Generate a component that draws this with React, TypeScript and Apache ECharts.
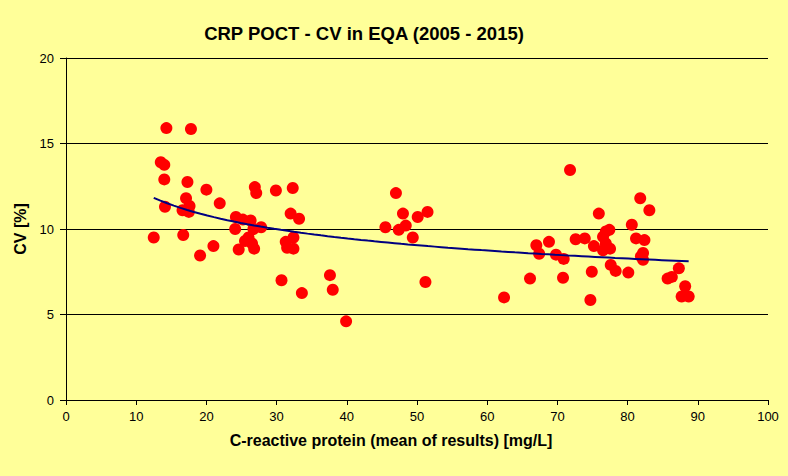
import React, { useEffect, useRef } from "react";
import * as echarts from "echarts";

const crpMean: number[] = [
  12.5, 14.3, 17.8, 13.5, 14.0, 14.0, 17.3, 20.0, 21.9, 17.1, 17.6, 14.1, 16.6, 17.5, 16.7,
  24.2, 24.1, 21.0, 19.1, 24.6, 26.9, 27.1, 29.9, 32.3, 32.0, 33.2, 25.2, 26.3, 26.7, 27.8,
  26.0, 25.5, 26.5, 26.8, 31.3, 32.4, 31.5, 32.4, 30.7, 33.6, 37.6, 38.0, 39.9,
  47.0, 48.0, 50.1, 51.5, 45.5, 47.4, 48.4, 49.4, 51.2,
  71.8, 75.9, 77.4, 76.9, 76.5, 72.6, 73.9, 75.2, 68.8, 67.0, 67.4, 69.8, 70.9, 76.9, 77.5,
  76.5, 77.6, 78.3, 74.9, 70.8, 66.1, 62.4, 74.7,
  81.8, 83.1, 80.6, 81.2, 82.4, 82.2, 81.9, 82.2, 80.1, 87.3, 86.3, 85.7, 88.2, 87.7, 88.7,
];

const cvPercent: number[] = [
  9.5, 15.9, 15.85, 13.9, 13.75, 12.9, 12.75, 12.3, 11.5, 11.8, 11.35, 11.3, 11.1, 11.0, 9.65,
  10.7, 10.0, 9.0, 8.45, 8.8, 12.45, 12.1, 12.25, 12.4, 10.9, 10.6, 10.55, 10.5, 10.0, 10.1,
  9.5, 9.3, 9.15, 8.85, 9.25, 9.5, 8.9, 8.85, 7.0, 6.25, 7.3, 6.45, 4.6,
  12.1, 10.9, 10.7, 11.0, 10.1, 9.95, 10.2, 9.5, 6.9,
  13.45, 10.9, 9.95, 9.85, 9.55, 9.4, 9.45, 9.0, 9.25, 9.05, 8.55, 8.5, 8.25, 9.15, 8.85,
  8.75, 7.9, 7.55, 7.5, 7.15, 7.1, 6.0, 5.85,
  11.8, 11.1, 10.25, 9.45, 9.35, 8.6, 8.4, 8.2, 7.45, 7.7, 7.2, 7.1, 6.65, 6.05, 6.05,
];

const xTicks: number[] = [0, 10, 20, 30, 40, 50, 60, 70, 80, 90, 100];
const yTicks: number[] = [0, 5, 10, 15, 20];

const titleText = "CRP POCT - CV in EQA (2005 - 2015)";
const xAxisTitle = "C-reactive protein (mean of results) [mg/L]";
const yAxisTitle = "CV [%]";

// Power trendline (y = a * x^b) fitted by least squares on logs, as in a spreadsheet trendline
function powerTrend(xs: number[], ys: number[]): [number, number][] {
  const n = xs.length;
  let sx = 0, sy = 0, sxx = 0, sxy = 0;
  for (let i = 0; i < n; i++) {
    const lx = Math.log(xs[i]);
    const ly = Math.log(ys[i]);
    sx += lx; sy += ly; sxx += lx * lx; sxy += lx * ly;
  }
  const b = (n * sxy - sx * sy) / (n * sxx - sx * sx);
  const a = Math.exp((sy - b * sx) / n);
  const minX = Math.min(...xs);
  const maxX = Math.max(...xs);
  const pts: [number, number][] = [];
  const steps = 80;
  for (let i = 0; i <= steps; i++) {
    const x = minX + ((maxX - minX) * i) / steps;
    pts.push([x, a * Math.pow(x, b)]);
  }
  return pts;
}

export default function App() {
  const ref = useRef<HTMLDivElement>(null);
  useEffect(() => {
    if (!ref.current) return;
    const chart = echarts.init(ref.current, undefined, { renderer: "svg" });
    const scatterData = crpMean.map((x, i) => [x, cvPercent[i]]);
    const font = "'Liberation Sans', Arial, sans-serif";
    chart.setOption({
      animation: false,
      backgroundColor: "#FFFF99",
      textStyle: { fontFamily: font },
      title: {
        text: titleText,
        left: 359,
        top: 19,
        textAlign: "center",
        textStyle: { fontSize: 18.5, fontWeight: "bold", color: "#000", fontFamily: font },
      },
      graphic: [
        {
          type: "text",
          x: 391,
          y: 440,
          style: {
            text: xAxisTitle,
            align: "center",
            verticalAlign: "middle",
            fontSize: 16,
            fontWeight: "bold",
            fill: "#000",
            fontFamily: font,
          },
        },
      ],
      grid: { left: 66, right: 20, top: 58, bottom: 76, containLabel: false },
      xAxis: {
        type: "value",
        min: xTicks[0],
        max: xTicks[xTicks.length - 1],
        interval: 10,
        axisLine: { show: true, lineStyle: { color: "#000", width: 1 } },
        axisTick: { show: true, length: 5, lineStyle: { color: "#000" } },
        axisLabel: { fontSize: 13, color: "#000", margin: 10, fontFamily: font },
        splitLine: { show: false },
      },
      yAxis: {
        type: "value",
        min: yTicks[0],
        max: yTicks[yTicks.length - 1],
        interval: 5,
        name: yAxisTitle,
        nameLocation: "middle",
        nameGap: 34,
        nameTextStyle: { fontSize: 16, fontWeight: "bold", color: "#000", fontFamily: font },
        axisLine: { show: true, lineStyle: { color: "#000", width: 1 } },
        axisTick: { show: true, length: 6, lineStyle: { color: "#000" } },
        axisLabel: { fontSize: 13, color: "#000", margin: 12, fontFamily: font },
        splitLine: { show: true, lineStyle: { color: "#000", width: 1 } },
      },
      series: [
        {
          type: "scatter",
          data: scatterData,
          symbol: "circle",
          symbolSize: 12,
          itemStyle: { color: "#FF0000", opacity: 1 },
          z: 2,
        },
        {
          type: "line",
          data: powerTrend(crpMean, cvPercent),
          showSymbol: false,
          symbol: "none",
          smooth: false,
          lineStyle: { color: "#000080", width: 2 },
          z: 3,
        },
      ],
    });
    return () => chart.dispose();
  }, []);
  return (
    <div
      ref={ref}
      style={{ position: "fixed", left: 0, top: 0, width: 788, height: 476 }}
    />
  );
}
